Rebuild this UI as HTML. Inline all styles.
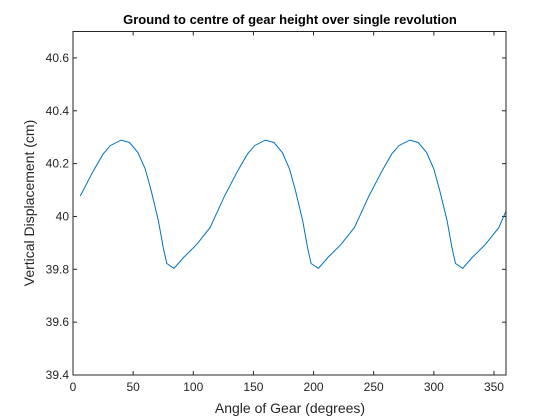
<!DOCTYPE html>
<html><head><meta charset="utf-8"><style>body{margin:0;background:#fff}svg{display:block;font-family:"Liberation Sans",Arial,sans-serif}</style></head>
<body>
<svg id="chart" width="560" height="420">
<rect width="560" height="420" fill="#fff"/>
<text x="290" y="24" font-size="13" font-weight="bold" text-anchor="middle" fill="#000">Ground to centre of gear height over single revolution</text>
<text x="290" y="413" font-size="14" text-anchor="middle" fill="#262626">Angle of Gear (degrees)</text>
<text transform="translate(34,203) rotate(-90)" font-size="14" text-anchor="middle" fill="#262626">Vertical Displacement (cm)</text>
<g id="ticks"></g>
<path id="line" fill="none" stroke="#0072BD" stroke-width="1"/>
<rect x="73" y="31.5" width="433" height="343.5" fill="none" stroke="#262626" stroke-width="1"/>
</svg>
<script>
const angles=[6,17,25,31,40,47,54,60,65,71,75,78,84,92,103,114,
126,137,145,151,160,167,174,180,185,191,195,198,204,212,223,234,
246,257,265,271,280,287,294,300,305,311,315,318,324,332,343,354,360];
const heights=[40.077,40.173,40.236,40.268,40.289,40.280,40.242,40.180,40.097,39.984,39.883,39.822,39.804,39.845,39.895,39.958,
40.077,40.173,40.236,40.268,40.289,40.280,40.242,40.180,40.097,39.984,39.883,39.822,39.804,39.845,39.895,39.958,
40.077,40.173,40.236,40.268,40.289,40.280,40.242,40.180,40.097,39.984,39.883,39.822,39.804,39.845,39.895,39.958,40.02];
const xTicks=[0,50,100,150,200,250,300,350];
const yTicks=[39.4,39.6,39.8,40,40.2,40.4,40.6];
const yTickLabels=["39.4","39.6","39.8","40","40.2","40.4","40.6"];
const X0=73,X1=506,Y0=375,Y1=31.5,xmin=0,xmax=360,ymin=39.4,ymax=40.7;
const sx=v=>X0+(v-xmin)/(xmax-xmin)*(X1-X0);
const sy=v=>Y0-(v-ymin)/(ymax-ymin)*(Y0-Y1);
const NS="http://www.w3.org/2000/svg";
const g=document.getElementById('ticks');
function mk(t,a){const e=document.createElementNS(NS,t);for(const k in a)e.setAttribute(k,a[k]);return e;}
xTicks.forEach(v=>{const x=sx(v);
const t1=mk('line',{x1:x,x2:x,y1:Y0,y2:Y0-4,stroke:'#262626'});

g.appendChild(t1);
const t2=mk('line',{x1:x,x2:x,y1:Y1,y2:Y1+4,stroke:'#262626'});

g.appendChild(t2);
const l=mk('text',{x:x,y:Y0+16,'font-size':12,'text-anchor':'middle',fill:'#262626'});l.textContent=v;

g.appendChild(l);});
yTicks.forEach((v,i)=>{const y=sy(v);
const t1=mk('line',{x1:X0,x2:X0+4,y1:y,y2:y,stroke:'#262626'});

g.appendChild(t1);
const t2=mk('line',{x1:X1,x2:X1-4,y1:y,y2:y,stroke:'#262626'});

g.appendChild(t2);
const l=mk('text',{x:X0-4,y:y+4,'font-size':12,'text-anchor':'end',fill:'#262626'});l.textContent=yTickLabels[i];

g.appendChild(l);});
document.getElementById('line').setAttribute('d',angles.map((a,i)=>(i?'L':'M')+sx(a).toFixed(1)+','+sy(heights[i]).toFixed(1)).join(''));
</script>
</body></html>
